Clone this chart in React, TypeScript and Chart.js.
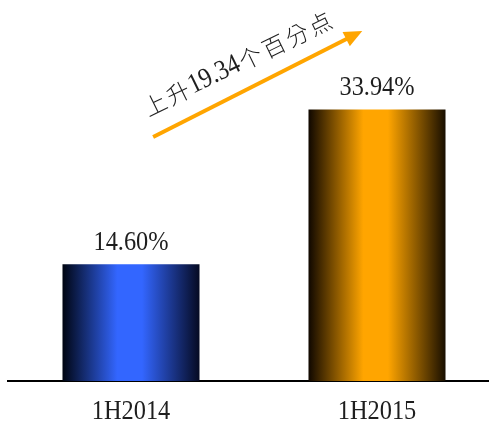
import React, { useEffect, useRef } from "react";
import { Chart, registerables } from "chart.js";

Chart.register(...registerables);

const categories = ["1H2014", "1H2015"];
const values = [14.6, 33.94];
const valueLabels = ["14.60%", "33.94%"];
const barCenterColors = ["#3366FF", "#FFA500"];
const barLeftColors = ["#000511", "#0f0700"];
const barRightColors = ["#050a22", "#180e00"];
const annotationParts = ["上", "升", "19.34", "个", "百", "分", "点"];
// annotation positions in data coordinates [category index, value]
const arrowFrom = [0.09, 30.5];
const arrowTo = [0.94, 43.75];
const textAnchor = [0.05, 33.9];
const yMax = 40;

const SERIF = "'Liberation Serif', 'DejaVu Serif', serif";
const CJK = "'Noto Sans CJK TC', 'Noto Sans CJK SC', sans-serif";
const TEXT_COLOR = "#1e1e1e";
const SQUEEZE = 0.87;

function drawSqueezed(ctx: CanvasRenderingContext2D, text: string, x: number, y: number) {
  ctx.save();
  ctx.translate(x, y);
  ctx.scale(SQUEEZE, 1);
  ctx.fillText(text, 0, 0);
  ctx.restore();
}

const labelPlugin = {
  id: "labelPlugin",
  afterDatasetsDraw(chart: any) {
    const ctx: CanvasRenderingContext2D = chart.ctx;
    const xs = chart.scales.x;
    const ys = chart.scales.y;
    const meta = chart.getDatasetMeta(0);
    ctx.save();
    ctx.fillStyle = TEXT_COLOR;
    ctx.font = `28px ${SERIF}`;
    ctx.textAlign = "center";
    ctx.textBaseline = "alphabetic";
    meta.data.forEach((el: any, i: number) => {
      drawSqueezed(ctx, valueLabels[i], el.x, el.y - 14);
    });
    categories.forEach((c, i) => {
      drawSqueezed(ctx, c, xs.getPixelForValue(i), chart.chartArea.bottom + 38);
    });

    // arrow
    const x1 = xs.getPixelForValue(arrowFrom[0]);
    const y1 = ys.getPixelForValue(arrowFrom[1]);
    const x2 = xs.getPixelForValue(arrowTo[0]);
    const y2 = ys.getPixelForValue(arrowTo[1]);
    const ang = Math.atan2(y2 - y1, x2 - x1);
    const headLen = 18;
    const headHalf = 8;
    ctx.strokeStyle = "#FFA500";
    ctx.fillStyle = "#FFA500";
    ctx.lineWidth = 4;
    ctx.beginPath();
    ctx.moveTo(x1, y1);
    ctx.lineTo(x2 - Math.cos(ang) * (headLen - 2), y2 - Math.sin(ang) * (headLen - 2));
    ctx.stroke();
    ctx.beginPath();
    ctx.moveTo(x2, y2);
    const bx = x2 - Math.cos(ang) * headLen;
    const by = y2 - Math.sin(ang) * headLen;
    ctx.lineTo(bx + Math.sin(ang) * headHalf, by - Math.cos(ang) * headHalf);
    ctx.lineTo(bx - Math.sin(ang) * headHalf, by + Math.cos(ang) * headHalf);
    ctx.closePath();
    ctx.fill();

    // rotated annotation text
    const tx = xs.getPixelForValue(textAnchor[0]);
    const ty = ys.getPixelForValue(textAnchor[1]);
    ctx.translate(tx, ty);
    ctx.rotate((-26 * Math.PI) / 180);
    ctx.fillStyle = TEXT_COLOR;
    ctx.textBaseline = "middle";
    ctx.textAlign = "left";
    let pos = 0;
    const cjkAdv = 25.8;
    annotationParts.forEach((p) => {
      if (/^[0-9.]+$/.test(p)) {
        ctx.font = `28px ${SERIF}`;
        const w = ctx.measureText(p).width * SQUEEZE;
        ctx.save();
        ctx.translate(pos, 0);
        ctx.scale(SQUEEZE, 1);
        ctx.fillText(p, 0, 0);
        ctx.restore();
        pos += w;
      } else {
        ctx.font = `300 23px ${CJK}`;
        ctx.textAlign = "center";
        ctx.fillText(p, pos + cjkAdv / 2, 0);
        ctx.textAlign = "left";
        pos += cjkAdv;
      }
    });
    ctx.restore();
  },
};

export default function App() {
  const ref = useRef<HTMLCanvasElement | null>(null);

  useEffect(() => {
    if (!ref.current) return;
    const barPct = 0.557;
    const chart = new Chart(ref.current, {
      type: "bar",
      data: {
        labels: categories,
        datasets: [
          {
            data: values,
            barPercentage: barPct,
            categoryPercentage: 1,
            borderWidth: 0,
            backgroundColor: (c: any) => {
              const ch = c.chart;
              const xs = ch.scales.x;
              const i = c.dataIndex;
              if (!xs || i === undefined || !ch.chartArea) return barCenterColors[i ?? 0];
              const cx = xs.getPixelForValue(i);
              const half = ((xs.width / categories.length) * barPct) / 2;
              const g = ch.ctx.createLinearGradient(cx - half, 0, cx + half, 0);
              g.addColorStop(0, barLeftColors[i]);
              g.addColorStop(0.4, barCenterColors[i]);
              g.addColorStop(0.58, barCenterColors[i]);
              g.addColorStop(1, barRightColors[i]);
              return g;
            },
          },
        ],
      },
      options: {
        responsive: false,
        animation: false,
        devicePixelRatio: 1,
        layout: { padding: { left: 8, right: 0, top: 61, bottom: 40 } },
        plugins: { legend: { display: false }, tooltip: { enabled: false } },
        scales: {
          x: {
            display: true,
            grid: { display: false, drawTicks: false },
            ticks: { display: false },
            border: { display: true, color: "#000", width: 2 },
          },
          y: { display: false, min: 0, max: yMax },
        },
      },
      plugins: [labelPlugin],
    });
    return () => chart.destroy();
  }, []);

  return (
    <div
      style={{
        position: "absolute",
        left: 0,
        top: 0,
        width: 489,
        height: 421,
        overflow: "hidden",
        background: "#fff",
      }}
    >
      <canvas ref={ref} width={500} height={421} style={{ display: "block" }} />
    </div>
  );
}
